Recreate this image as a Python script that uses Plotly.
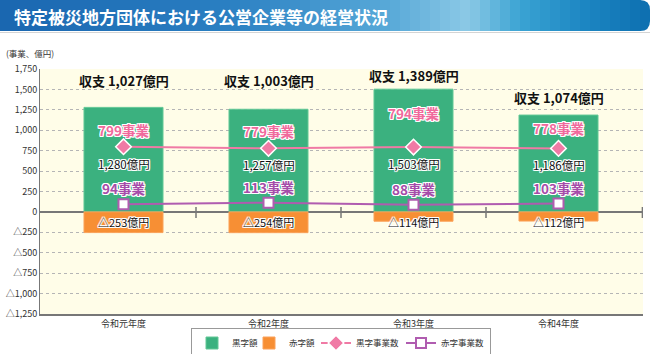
import plotly.graph_objects as go

# ---------------- data ----------------
categories = ["令和元年度", "令和2年度", "令和3年度", "令和4年度"]
surplus = [1280, 1257, 1503, 1186]          # 黒字額 (億円)
deficit = [-253, -254, -114, -112]          # 赤字額 (億円)
surplus_count = [799, 779, 794, 778]        # 黒字事業数
deficit_count = [94, 113, 88, 103]          # 赤字事業数
y_tick_vals = [1750, 1500, 1250, 1000, 750, 500, 250, 0, -250, -500, -750, -1000, -1250]

net = [p + n for p, n in zip(surplus, deficit)]
x = list(range(len(categories)))

def fmt(v):
    s = f"{abs(v):,}"
    return ("△" + s) if v < 0 else s

# ---------------- layout geometry ----------------
W, H = 650, 354
L, R, T, B = 40, 7, 69, 40
PW, PH = W - L - R, H - T - B

def pxx(px):
    return (px - L) / PW

def pxy(py):
    return (H - B - py) / PH

FONT = "Noto Sans CJK JP, Noto Sans, sans-serif"
GREEN = "#3bb17f"
ORANGE = "#f78f34"
PINK = "#f07aa5"
PURPLE = "#b05cb0"
OUTLINE = "1px 1px 0 #fff, -1px -1px 0 #fff, 1px -1px 0 #fff, -1px 1px 0 #fff, 0 1px 0 #fff, 0 -1px 0 #fff, 1px 0 0 #fff, -1px 0 0 #fff"

fig = go.Figure()
bw = 0.545
fig.add_trace(go.Bar(x=x, y=surplus, name="黒字額", width=bw, legendwidth=12,
                     marker=dict(color=GREEN, line=dict(color="#62c896", width=1)),
                     hoverinfo="skip"))
fig.add_trace(go.Bar(x=x, y=deficit, name="赤字額", width=bw, legendwidth=22,
                     marker=dict(color=ORANGE, line=dict(color="#fba25a", width=1)),
                     hoverinfo="skip"))
fig.add_trace(go.Scatter(x=x, y=surplus_count, name="黒字事業数", mode="lines+markers",
                         legendwidth=40,
                         line=dict(color=PINK, width=2),
                         marker=dict(symbol="diamond", size=12, color=PINK,
                                     line=dict(color="white", width=1.5))))
fig.add_trace(go.Scatter(x=x, y=deficit_count, name="赤字事業数", mode="lines+markers",
                         legendwidth=44,
                         line=dict(color=PURPLE, width=2),
                         marker=dict(symbol="square", size=10, color="white",
                                     line=dict(color=PURPLE, width=2))))

ann = []
# label offsets (pixels)
net_shift = [27, 29, 14, 18]
pink_shift = [17, 17, 34, 20]
for i in x:
    ann.append(dict(x=i, y=surplus[i], yshift=net_shift[i], text=f"収支 {net[i]:,}億円",
                    showarrow=False, yanchor="middle",
                    font=dict(family=FONT, size=13, color="#111", weight="bold")))
    ann.append(dict(x=i, y=surplus_count[i], yshift=pink_shift[i], text=f"{surplus_count[i]}事業",
                    showarrow=False, yanchor="middle",
                    font=dict(family=FONT, size=13.5, color="#f06a9c", weight="bold", shadow=OUTLINE)))
    ann.append(dict(x=i, y=surplus_count[i], yshift=-17, text=f"{fmt(surplus[i])}億円",
                    showarrow=False, yanchor="middle",
                    font=dict(family=FONT, size=11.5, color="#111", shadow=OUTLINE)))
    ann.append(dict(x=i, y=deficit_count[i], yshift=16, text=f"{deficit_count[i]}事業",
                    showarrow=False, yanchor="middle",
                    font=dict(family=FONT, size=13.5, color="#a54ca9", weight="bold", shadow=OUTLINE)))
    ann.append(dict(x=i, y=0, yshift=-10, text=f"{fmt(deficit[i])}億円",
                    showarrow=False, yanchor="middle",
                    font=dict(family=FONT, size=11, color="#111", shadow=OUTLINE)))

# title banner and axis unit
ann.append(dict(xref="paper", yref="paper", x=pxx(12), y=pxy(16), xanchor="left", yanchor="middle",
                text="特定被災地方団体における公営企業等の経営状況", showarrow=False,
                font=dict(family=FONT, size=17, color="white", weight="bold")))
ann.append(dict(xref="paper", yref="paper", x=pxx(4), y=pxy(53), xanchor="left", yanchor="middle",
                text="(事業、億円)", showarrow=False,
                font=dict(family=FONT, size=8.5, color="#333")))

shapes = []
# gradient banner built from strips
stops = [(0.0, (26, 102, 176)), (0.35, (42, 127, 194)), (0.6, (88, 169, 216)),
         (0.72, (140, 201, 230)), (0.8, (58, 163, 211)), (0.9, (28, 134, 194)), (1.0, (13, 111, 176))]

def col(t):
    for (t0, c0), (t1, c1) in zip(stops[:-1], stops[1:]):
        if t0 <= t <= t1:
            f = (t - t0) / (t1 - t0) if t1 > t0 else 0
            return "rgb(%d,%d,%d)" % tuple(round(a + (b - a) * f) for a, b in zip(c0, c1))
    return "rgb(%d,%d,%d)" % stops[-1][1]

step = 10
for sx in range(0, 640, step):
    shapes.append(dict(type="rect", xref="paper", yref="paper", layer="above",
                       x0=pxx(sx), x1=pxx(sx + step + 0.6), y0=pxy(31), y1=pxy(0),
                       fillcolor=col((sx + step / 2) / 650), line=dict(width=0)))
ex0, ex1, ey0, ey1, rr = 640, 650, 0, 31, 10
path = (f"M {pxx(ex0)},{pxy(ey0)} L {pxx(ex1 - rr)},{pxy(ey0)} "
        f"Q {pxx(ex1)},{pxy(ey0)} {pxx(ex1)},{pxy(ey0 + rr)} L {pxx(ex1)},{pxy(ey1 - rr)} "
        f"Q {pxx(ex1)},{pxy(ey1)} {pxx(ex1 - rr)},{pxy(ey1)} L {pxx(ex0)},{pxy(ey1)} Z")
shapes.append(dict(type="path", xref="paper", yref="paper", path=path, layer="above",
                   fillcolor=col(0.995), line=dict(width=0)))
shapes.append(dict(type="line", xref="paper", yref="paper", x0=pxx(0), x1=pxx(650),
                   y0=pxy(32.5), y1=pxy(32.5), line=dict(color="#d4d4d4", width=1)))

# category divider ticks on the zero line
xr = [(L - 123.5) / 145, (W - R - 123.5) / 145]
for tx in [0.5, 1.5, 2.5, xr[1] - 0.004]:
    shapes.append(dict(type="line", xref="x", yref="y", x0=tx, x1=tx, y0=-6, y1=5,
                       ysizemode="pixel", yanchor=0, line=dict(color="#777", width=1.5)))

fig.update_layout(
    width=W, height=H,
    margin=dict(l=L, r=R, t=T, b=B, pad=0, autoexpand=False),
    paper_bgcolor="white", plot_bgcolor="#fffde8",
    barmode="relative",
    font=dict(family=FONT, size=9, color="#333"),
    showlegend=True,
    legend=dict(orientation="h", x=pxx(341), xanchor="center", xref="paper",
                y=pxy(343), yanchor="middle", bordercolor="#999", borderwidth=1,
                font=dict(family=FONT, size=8.5, color="#333"), itemwidth=30,
                tracegroupgap=0, bgcolor="white"),
    annotations=ann, shapes=shapes,
)
fig.update_xaxes(range=xr, tickvals=x, ticktext=categories, showgrid=False, zeroline=False,
                 showline=True, linecolor="#777", linewidth=1.5, ticks="",
                 tickfont=dict(family=FONT, size=9, color="#333"), fixedrange=True)
fig.update_yaxes(range=[-1250, 1750], tickvals=y_tick_vals, ticktext=[fmt(v) for v in y_tick_vals],
                 showgrid=True, gridcolor="#b5b5b5", griddash="dot", gridwidth=1,
                 zeroline=True, zerolinecolor="#777", zerolinewidth=1.5,
                 showline=True, linecolor="#777", linewidth=1, ticks="",
                 tickfont=dict(family=FONT, size=9, color="#333"), fixedrange=True)

fig.write_html("out.html")
